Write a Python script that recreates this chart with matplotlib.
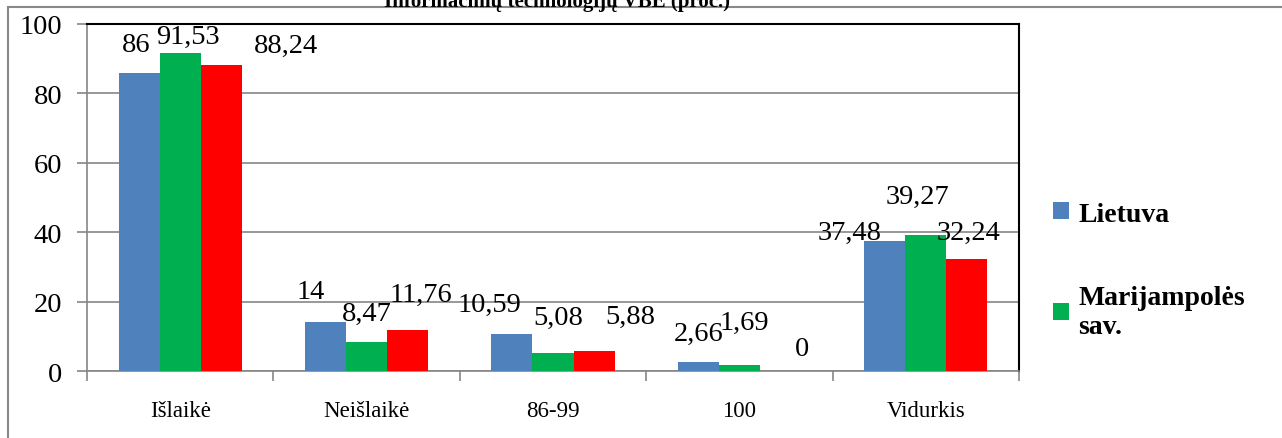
import numpy as np
import matplotlib
matplotlib.use("Agg")
import matplotlib.pyplot as plt
from matplotlib.patches import Rectangle

plt.rcParams['font.family'] = ['Liberation Serif', 'DejaVu Serif']

########### data
categories = ["Išlaikė", "Neišlaikė", "86-99", "100", "Vidurkis"]
lietuva = [86, 14, 10.59, 2.66, 37.48]
marijampole = [91.53, 8.47, 5.08, 1.69, 39.27]
third = [88.24, 11.76, 5.88, 0, 32.24]
series_names = ["Lietuva", "Marijampolės\nsav.", ""]
title = "Informacinių technologijų VBE (proc.)"

colors = ["#4F81BD", "#00B050", "#FF0000"]

# label placement (pixel offsets from bar top), excel put them a bit all over
label_dx = [[-3, -15, -23, 0, -35],
            [8, 0, 5, 5, -8],
            [65, 13, 36, 22, 2]]
label_dy = [[28, 31, 30, 28, 9],
            [17, 28, 36, 43, 38],
            [19, 36, 34, 22, 27]]


########### plot
fig = plt.figure(figsize=(12.82, 4.39), dpi=100)
ax = fig.add_axes([87 / 1282, 1 - 372 / 439, (1019 - 87) / 1282, (372 - 25) / 439])

x = np.arange(len(categories))
w = 0.22
all_series = [lietuva, marijampole, third]
for i, vals in enumerate(all_series):
    pos = x + (i - 1) * w
    ax.bar(pos, vals, width=w, color=colors[i], edgecolor="none",
           label=series_names[i] if series_names[i] else None, zorder=3)
    for j, v in enumerate(vals):
        txt = f"{v:g}".replace(".", ",")
        ax.annotate(txt, (pos[j], v), xytext=(label_dx[i][j], label_dy[i][j]),
                    textcoords="offset pixels", ha="center", va="center",
                    fontsize=20.5, zorder=5)

ax.set_xlim(-0.5, len(categories) - 0.5)
ax.set_ylim(0, 100)
ax.set_yticks(np.arange(0, 101, 20))
ax.yaxis.grid(True, color="#868686", lw=1.2, zorder=0)
ax.set_axisbelow(True)

ax.set_xticks(x)
ax.set_xticklabels(categories, fontsize=16.5)
ax.set_xticks(np.arange(-0.5, len(categories), 1), minor=True)
ax.tick_params(axis="x", which="major", length=0, pad=21)
ax.tick_params(axis="x", which="minor", length=7, width=1.2, color="#868686", direction="out")
ax.tick_params(axis="y", length=7, width=1.2, color="#868686", pad=11, labelsize=20.5)

for s in ["left", "bottom"]:
    ax.spines[s].set_color("#868686")
    ax.spines[s].set_linewidth(1.2)
for s in ["top", "right"]:
    ax.spines[s].set_color("black")
    ax.spines[s].set_linewidth(1.5)

leg = ax.legend(loc="upper left", bbox_to_anchor=(1.025, 0.52), frameon=False,
                prop={"weight": "bold", "size": 20}, handlelength=0.55,
                handleheight=0.55, handletextpad=0.35, labelspacing=2.1,
                borderaxespad=0)

# outer chart border
fig.patches.append(Rectangle((8 / 1282, -0.1), 1.2, 1 - 8 / 439 + 0.1,
                             transform=fig.transFigure, fill=False,
                             edgecolor="#888888", lw=1.5))

# title sits mostly above the picture, only its lower half shows
fig.text(557 / 1282, 1 - 6.5 / 439, title, ha="center", va="baseline",
         fontsize=15, fontweight="bold")

plt.savefig("out.png", dpi=100)
plt.close("all")
